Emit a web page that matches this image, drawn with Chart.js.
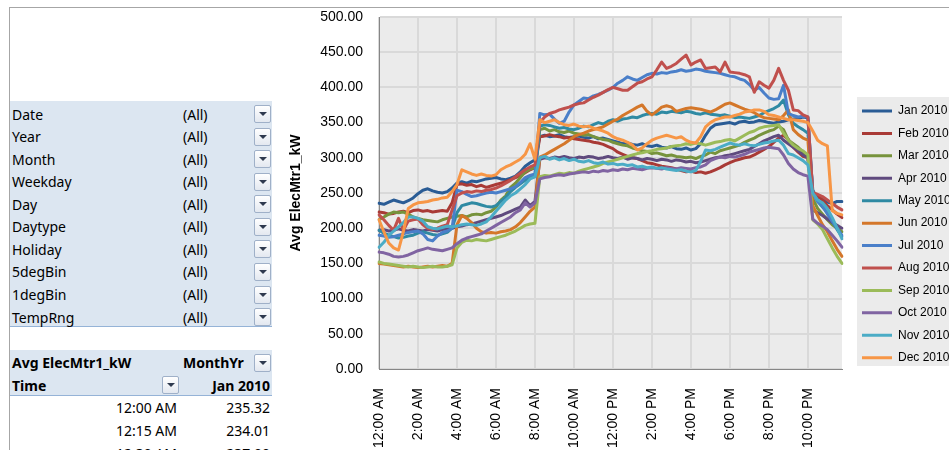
<!DOCTYPE html>
<html><head><meta charset="utf-8">
<script src="https://cdn.jsdelivr.net/npm/chart.js@4.4.1/dist/chart.umd.min.js"></script>
<style>
html,body{margin:0;padding:0;background:#fff;}
body{width:949px;height:450px;overflow:hidden;position:relative;font-family:"Noto Sans",sans-serif;}
.abs{position:absolute;}
.frameH{left:9px;top:7px;width:940px;height:1px;background:#a6a6a6;}
.frameV{left:9px;top:7px;width:1px;height:443px;background:#a6a6a6;}
.band{position:absolute;left:10px;width:262px;background:#dce6f1;border-bottom:1px solid #95b3d7;}
.txt{position:absolute;font-size:14px;line-height:20px;height:20px;white-space:nowrap;color:#000;}
.b{font-weight:bold;}
.r{text-align:right;}
.btn{position:absolute;width:15px;height:16px;border:1px solid #9fb0c8;border-radius:2px;background:linear-gradient(#ffffff,#e3e8f0);}
.btn::after{content:"";position:absolute;left:4px;top:6px;border-left:4px solid transparent;border-right:4px solid transparent;border-top:4px solid #2f3a4f;}
#chart{position:absolute;left:280px;top:0;}
</style></head><body>
<div class="abs frameH"></div>
<div class="abs frameV"></div>
<div id="pivot"></div>
<canvas id="chart" width="669" height="450"></canvas>
<script>
// ---------------- data ----------------
const categories = ["12:00 AM","12:15 AM","12:30 AM","12:45 AM","1:00 AM","1:15 AM","1:30 AM","1:45 AM","2:00 AM","2:15 AM","2:30 AM","2:45 AM","3:00 AM","3:15 AM","3:30 AM","3:45 AM","4:00 AM","4:15 AM","4:30 AM","4:45 AM","5:00 AM","5:15 AM","5:30 AM","5:45 AM","6:00 AM","6:15 AM","6:30 AM","6:45 AM","7:00 AM","7:15 AM","7:30 AM","7:45 AM","8:00 AM","8:15 AM","8:30 AM","8:45 AM","9:00 AM","9:15 AM","9:30 AM","9:45 AM","10:00 AM","10:15 AM","10:30 AM","10:45 AM","11:00 AM","11:15 AM","11:30 AM","11:45 AM","12:00 PM","12:15 PM","12:30 PM","12:45 PM","1:00 PM","1:15 PM","1:30 PM","1:45 PM","2:00 PM","2:15 PM","2:30 PM","2:45 PM","3:00 PM","3:15 PM","3:30 PM","3:45 PM","4:00 PM","4:15 PM","4:30 PM","4:45 PM","5:00 PM","5:15 PM","5:30 PM","5:45 PM","6:00 PM","6:15 PM","6:30 PM","6:45 PM","7:00 PM","7:15 PM","7:30 PM","7:45 PM","8:00 PM","8:15 PM","8:30 PM","8:45 PM","9:00 PM","9:15 PM","9:30 PM","9:45 PM","10:00 PM","10:15 PM","10:30 PM","10:45 PM","11:00 PM","11:15 PM","11:30 PM","11:45 PM"];
const xTickLabels = ["12:00 AM","2:00 AM","4:00 AM","6:00 AM","8:00 AM","10:00 AM","12:00 PM","2:00 PM","4:00 PM","6:00 PM","8:00 PM","10:00 PM"];
const seriesNames = ["Jan 2010","Feb 2010","Mar 2010","Apr 2010","May 2010","Jun 2010","Jul 2010","Aug 2010","Sep 2010","Oct 2010","Nov 2010","Dec 2010"];

const jan2010 = [235.32,234.01,237,240,238,236,239,243,249,254,256,253,251,250,252,257,264,266,264,267,266,268,270,271,272,270,269,271,274,280,288,293,297,
330,332,330,331,333,330,329,330,331,329,328,330,327,328,326,324,322,320,321,319,318,320,317,316,318,315,314,316,313,312,314,311,313,320,332,342,347,348,349,350,348,351,352,350,351,353,352,350,349,351,352,354,355,356,358,357,250,245,241,237,235,238,238];
const feb2010 = [223,222,220,221,223,224,222,225,226,224,225,223,224,225,224,236,262,263,261,262,259,261,258,260,262,264,266,269,272,275,279,283,286,
330,331,333,331,330,328,329,327,326,325,324,322,321,319,316,313,308,305,302,300,299,296,293,292,290,288,287,286,284,282,280,281,279,280,278,280,283,286,290,293,296,298,300,301,304,308,312,316,322,328,332,326,315,308,302,300,250,246,240,232,226,220,215];
const mar2010 = [212,216,220,223,222,223,220,216,214,212,211,210,209,212,214,216,217,218,216,219,220,219,222,224,230,240,246,258,264,272,280,284,286,
340,342,338,340,337,336,338,335,334,332,333,330,328,326,325,322,320,318,317,314,312,310,309,306,307,305,303,304,302,301,300,301,299,302,304,308,306,310,312,314,316,318,322,325,328,332,335,338,340,345,340,325,320,315,308,302,242,228,220,212,205,200,195];
const apr2010 = [197,198,196,197,199,197,196,198,197,196,198,197,196,198,199,200,202,203,205,206,208,210,212,214,216,218,221,224,227,230,240,232,238,
298,300,299,301,300,302,300,299,301,300,302,301,299,300,302,300,299,301,298,300,299,297,299,298,296,298,297,295,297,296,294,295,293,294,296,298,300,301,303,304,306,308,310,312,316,320,324,327,330,332,325,320,315,310,304,300,226,222,218,213,208,204,200];
const may2010 = [197,193,190,188,186,187,189,190,193,195,193,191,190,192,194,200,222,232,234,236,235,233,231,230,232,238,244,252,258,263,268,272,274,
345,347,346,344,342,343,341,340,342,345,344,347,350,348,352,354,352,355,356,358,357,360,362,363,362,365,364,366,365,364,366,365,363,362,364,362,361,360,361,359,357,358,357,356,358,360,364,367,370,374,382,361,349,344,340,335,255,238,230,222,210,198,188];
const jun2010 = [150,149,148,147,146,145,146,145,144,145,146,145,146,147,146,150,205,218,214,208,200,195,193,194,193,195,196,198,202,208,216,224,230,
301,304,308,312,316,320,325,330,333,335,338,340,342,344,348,352,355,360,364,368,372,375,366,361,366,372,374,372,366,368,370,371,370,369,367,365,368,372,376,378,375,372,369,367,364,360,357,356,355,354,360,368,340,333,328,325,232,218,205,195,182,170,160];
const jul2010 = [190,189,187,188,190,192,194,195,196,192,184,182,189,194,196,200,254,252,248,245,246,248,250,251,250,252,254,256,259,265,272,275,277,
363,361,362,355,349,352,365,375,380,385,384,388,390,393,396,400,406,410,415,412,410,414,418,420,419,421,420,422,423,425,423,424,426,425,423,422,421,420,418,416,415,412,410,404,396,400,392,385,383,384,403,363,360,358,359,358,250,238,232,220,210,200,190];
const aug2010 = [219,212,204,197,214,197,210,212,213,205,200,198,200,203,205,226,246,250,252,251,253,252,254,255,257,260,264,268,273,278,283,287,290,
350,358,363,365,368,370,372,375,377,378,382,386,389,393,397,400,398,396,396,401,406,408,412,415,425,436,427,430,434,440,446,432,436,439,427,428,429,422,436,422,421,420,418,415,393,408,403,399,410,427,410,396,368,367,361,358,251,248,245,240,235,230,226];
const sep2010 = [152,150,149,148,147,146,145,146,145,144,145,146,145,145,146,148,172,180,183,182,184,183,182,184,186,188,190,193,196,200,204,206,207,
273,275,274,276,278,277,279,278,281,283,285,287,289,292,294,296,298,300,302,304,306,307,309,310,312,313,314,316,317,318,320,319,321,320,318,320,322,323,325,326,324,328,332,336,338,342,344,345,346,347,335,325,318,313,310,304,212,206,198,185,172,160,150];
const oct2010 = [166,165,163,160,159,160,162,165,168,170,172,170,169,168,170,172,178,183,186,188,190,192,196,200,204,208,212,216,222,226,236,230,236,
270,272,273,275,276,275,277,278,279,280,279,281,280,282,281,283,282,284,283,285,284,283,285,286,285,284,286,285,284,286,285,284,286,287,290,296,299,301,300,302,301,303,305,308,310,312,314,315,314,313,304,292,284,279,276,274,213,207,203,198,190,182,173];
const nov2010 = [173,180,190,196,202,208,216,216,214,210,202,200,199,201,203,202,203,205,206,205,204,206,209,216,224,232,240,246,250,256,262,270,273,
300,302,298,300,297,299,296,298,295,294,296,293,292,294,291,292,290,291,289,290,287,288,286,287,285,286,284,283,282,283,281,280,282,295,311,310,312,315,318,321,319,318,320,318,317,319,321,322,324,325,318,306,304,300,296,290,250,240,236,228,215,200,185];
const dec2010 = [212,195,179,172,169,195,228,233,236,237,238,240,241,243,244,252,262,283,280,277,275,277,275,274,276,283,287,290,294,298,305,320,298,
354,350,352,354,350,347,346,348,345,344,345,342,340,338,335,330,327,325,322,318,311,314,320,325,328,330,332,330,328,330,325,322,321,330,344,350,354,356,358,358,360,362,365,366,368,368,366,361,360,358,356,354,354,353,352,350,338,325,320,317,225,221,219];

const seriesValues = [jan2010,feb2010,mar2010,apr2010,may2010,jun2010,jul2010,aug2010,sep2010,oct2010,nov2010,dec2010];
const seriesColors = ["#2a5c95","#a93a36","#77933c","#5f4a7e","#2f8aa3","#d4772a","#4a7fc9","#c0504d","#9bbb59","#8064a2","#4bacc6","#f79646"];

const filterFields = ["Date","Year","Month","Weekday","Day","Daytype","Holiday","5degBin","1degBin","TempRng"];
const filterValue = "(All)";

// ---------------- pivot table (HTML) ----------------
(function buildPivot(){
  const root = document.getElementById('pivot');
  let html = '';
  html += '<div class="band" style="top:101px;height:225px;"></div>';
  filterFields.forEach((f, k) => {
    const c = 115 + k * 22.56;
    html += `<div class="txt" style="left:12px;top:${(c-10.5).toFixed(1)}px">${f}</div>`;
    html += `<div class="txt" style="left:183px;top:${(c-10.5).toFixed(1)}px">${filterValue}</div>`;
    html += `<div class="btn" style="left:254px;top:${(c-10).toFixed(1)}px"></div>`;
  });
  html += '<div class="band" style="top:350px;height:45px;"></div>';
  html += '<div class="txt b" style="left:12px;top:353px">Avg ElecMtr1_kW</div>';
  html += '<div class="txt b" style="left:183px;top:353px">MonthYr</div>';
  html += '<div class="btn" style="left:254px;top:354px"></div>';
  html += '<div class="txt b" style="left:12px;top:375.5px">Time</div>';
  html += '<div class="btn" style="left:162px;top:376px"></div>';
  html += `<div class="txt b r" style="left:170px;width:100px;top:375.5px">${seriesNames[0]}</div>`;
  for (let r = 0; r < 3; r++) {
    const c = 408.5 + r * 22.8;
    html += `<div class="txt r" style="left:77px;width:100px;top:${(c-10.5).toFixed(1)}px">${categories[r]}</div>`;
    html += `<div class="txt r" style="left:170px;width:100px;top:${(c-10.5).toFixed(1)}px">${jan2010[r].toFixed(2)}</div>`;
  }
  root.innerHTML = html;
})();

// ---------------- chart ----------------
const FONT = "'Liberation Sans', Arial, sans-serif";
const LEGEND_W = 107;

const helperPlugin = {
  id: 'excelLook',
  beforeLayout(chart) {
    const lg = chart.legend;
    if (lg && !lg._patched) {
      const f = lg.fit;
      lg.fit = function() { f.call(this); this.width = LEGEND_W; };
      lg._patched = true;
    }
  },
  afterLayout(chart) {
    const lg = chart.legend;
    if (!lg) return;
    const p = lg.options.labels.padding;
    const w = lg.width, h = lg.height;
    lg.left = 582 - p; lg.right = lg.left + w;
    lg.top = 105 - p; lg.bottom = lg.top + h;
  },
  beforeDraw(chart) {
    const {ctx, chartArea: a} = chart;
    ctx.save();
    ctx.fillStyle = '#ebebeb';
    ctx.fillRect(a.left, a.top, a.right - a.left, a.bottom - a.top);
    ctx.fillRect(577, 97, 100, 269);
    ctx.restore();
  }
};

new Chart(document.getElementById('chart'), {
  type: 'line',
  data: {
    labels: categories,
    datasets: seriesNames.map((name, k) => ({
      label: name,
      data: seriesValues[k],
      borderColor: seriesColors[k],
      backgroundColor: seriesColors[k],
      borderWidth: 3,
      pointRadius: 0,
      pointHoverRadius: 0,
      tension: 0,
      fill: false,
      borderJoinStyle: 'round',
      borderCapStyle: 'round',
      order: seriesNames.length - k
    }))
  },
  options: {
    responsive: false,
    animation: false,
    devicePixelRatio: 1,
    layout: { padding: { top: 17, right: 0, bottom: 0, left: 0 } },
    plugins: {
      tooltip: { enabled: false },
      legend: {
        position: 'right',
        align: 'start',
        labels: {
          boxWidth: 30,
          boxHeight: 3,
          padding: 10.43,
          color: '#000',
          font: { family: FONT, size: 12 },
          generateLabels: (chart) => chart.data.datasets.map((ds, i) => ({
            text: ds.label, fillStyle: ds.borderColor, strokeStyle: ds.borderColor,
            lineWidth: 0, hidden: false, datasetIndex: i, fontColor: '#000'
          }))
        }
      }
    },
    scales: {
      x: {
        type: 'category',
        offset: false,
        grid: {
          color: (c) => (xTickLabels.includes(categories[c.index]) ? '#d9d9d9' : 'rgba(0,0,0,0)'),
          lineWidth: 2,
          drawTicks: false
        },
        border: { display: true, color: '#868686', width: 1 },
        ticks: {
          autoSkip: false, maxRotation: 90, minRotation: 90, padding: 19,
          color: '#000', font: { family: FONT, size: 14 },
          callback: function(v, i) { const l = categories[i]; return xTickLabels.includes(l) ? l : ''; }
        },
        afterFit: (s) => { s.height = 81; }
      },
      y: {
        min: 0, max: 500,
        grid: { color: '#d9d9d9', lineWidth: 2, drawTicks: true, tickLength: 16, tickColor: 'rgba(0,0,0,0)' },
        border: { display: true, color: '#868686', width: 1 },
        ticks: { stepSize: 50, padding: 0, color: '#000', font: { family: FONT, size: 14 }, callback: (v) => Number(v).toFixed(2) },
        title: { display: true, text: 'Avg ElecMtr1_kW', color: '#000', font: { family: FONT, size: 14, weight: 'bold' }, padding: { top: 8, bottom: 0 } },
        afterFit: (s) => { s.width = 99; }
      }
    }
  },
  plugins: [helperPlugin]
});
</script>
</body></html>
